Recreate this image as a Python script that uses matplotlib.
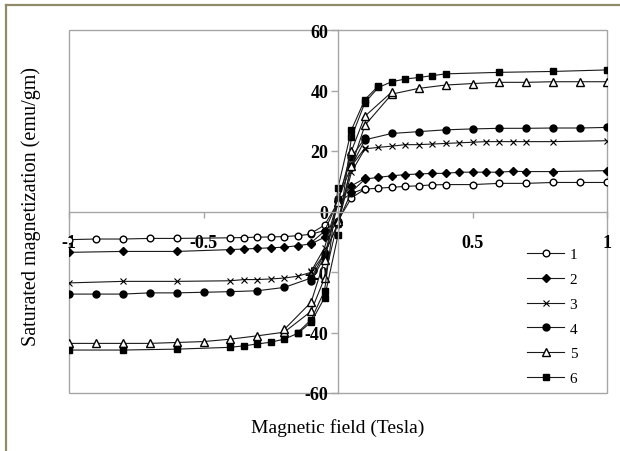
import matplotlib
matplotlib.use("Agg")
import matplotlib.pyplot as plt
from matplotlib.patches import Rectangle
from matplotlib.lines import Line2D

plt.rcParams['axes.unicode_minus'] = False
plt.rcParams['font.family'] = ['Liberation Serif', 'DejaVu Serif']

# ---------------- data (field in Tesla, magnetization in emu/gm) ----------------
labels = ['1', '2', '3', '4', '5', '6']

s1_up_x = [-1, -0.9, -0.8, -0.7, -0.6, -0.4, -0.35, -0.3, -0.25, -0.2, -0.15, -0.1, -0.05, 0,
           0.05, 0.1, 0.15, 0.2, 0.25, 0.3, 0.35, 0.4, 0.5, 0.6, 0.7, 0.8, 0.9, 1.0]
s1_up_y = [-9.3, -9.1, -9.1, -8.9, -8.9, -8.7, -8.6, -8.5, -8.4, -8.3, -8.0, -7.5, -6.3, -3.0,
           4.5, 7.4, 7.7, 8.0, 8.3, 8.5, 8.8, 8.9, 8.9, 9.3, 9.3, 9.6, 9.6, 9.6]
s1_dn_x = [0.1, 0.05, 0, -0.05, -0.1]
s1_dn_y = [7.6, 6.0, 3.0, -4.5, -7.2]

s2_up_x = [-1, -0.8, -0.6, -0.4, -0.35, -0.3, -0.25, -0.2, -0.15, -0.1, -0.05, 0, 0.05, 0.1,
           0.15, 0.2, 0.25, 0.3, 0.35, 0.4, 0.45, 0.5, 0.55, 0.6, 0.65, 0.7, 0.8, 1.0]
s2_up_y = [-13.5, -13.2, -13.2, -12.6, -12.4, -12.2, -12.0, -11.8, -11.3, -10.7, -8.5, -3.5, 6.5, 10.7,
           11.3, 11.8, 12.2, 12.4, 12.6, 12.6, 13.0, 13.0, 13.0, 13.0, 13.3, 13.2, 13.2, 13.5]
s2_dn_x = [0.1, 0.05, 0, -0.05, -0.1]
s2_dn_y = [11.0, 8.5, 3.5, -6.5, -10.3]

s3_up_x = [-1, -0.8, -0.6, -0.4, -0.35, -0.3, -0.25, -0.2, -0.15, -0.1, -0.05, 0, 0.05, 0.1,
           0.15, 0.2, 0.25, 0.3, 0.35, 0.4, 0.45, 0.5, 0.55, 0.6, 0.65, 0.7, 0.8, 1.0]
s3_up_y = [-23.6, -23.1, -23.1, -22.9, -22.5, -22.5, -22.3, -22.0, -21.4, -20.1, -14.0, -4.0, 13.0, 20.7,
           21.2, 21.6, 22.1, 22.1, 22.3, 22.5, 22.7, 22.9, 23.1, 23.1, 23.1, 23.1, 23.1, 23.4]
s3_dn_x = [0.1, 0.05, 0, -0.05, -0.1]
s3_dn_y = [21.0, 15.0, 4.0, -12.0, -19.8]

s4_up_x = [-1, -0.9, -0.8, -0.7, -0.6, -0.5, -0.4, -0.3, -0.2, -0.1, -0.05, 0, 0.05, 0.1,
           0.2, 0.3, 0.4, 0.5, 0.6, 0.7, 0.8, 0.9, 1.0]
s4_up_y = [-27.3, -27.3, -27.3, -26.9, -26.9, -26.7, -26.5, -26.2, -25.1, -22.0, -14.0, -4.0, 15.0, 23.7,
           25.8, 26.4, 27.0, 27.3, 27.5, 27.5, 27.6, 27.6, 27.8]
s4_dn_x = [0.1, 0.05, 0, -0.05, -0.1]
s4_dn_y = [24.2, 18.0, 4.0, -15.0, -23.0]

s5_up_x = [-1, -0.9, -0.8, -0.7, -0.6, -0.5, -0.4, -0.3, -0.2, -0.1, -0.05, 0, 0.05, 0.1,
           0.2, 0.3, 0.4, 0.5, 0.6, 0.7, 0.8, 0.9, 1.0]
s5_up_y = [-43.6, -43.6, -43.6, -43.6, -43.3, -43.0, -42.2, -41.1, -39.9, -33.0, -22.0, -3.0, 15.0, 28.5,
           38.8, 40.7, 41.8, 42.3, 42.7, 42.7, 42.9, 42.9, 42.9]
s5_dn_x = [0.2, 0.1, 0.05, 0, -0.05, -0.1, -0.2]
s5_dn_y = [39.5, 31.5, 20.0, 3.0, -16.0, -30.0, -39.0]

s6_up_x = [-1, -0.8, -0.6, -0.4, -0.35, -0.3, -0.25, -0.2, -0.15, -0.1, -0.05, 0, 0.05, 0.1,
           0.15, 0.2, 0.25, 0.3, 0.35, 0.4, 0.6, 0.8, 1.0]
s6_up_y = [-45.8, -45.8, -45.5, -44.9, -44.4, -43.8, -43.2, -42.2, -40.3, -36.6, -28.5, -7.8, 24.5, 36.0,
           41.0, 42.9, 43.8, 44.3, 44.9, 45.5, 46.0, 46.3, 46.8]
s6_dn_x = [0.15, 0.1, 0.05, 0, -0.05, -0.1, -0.15]
s6_dn_y = [41.5, 37.0, 27.0, 7.8, -26.2, -35.8, -40.0]

x_ticks = [-1, -0.5, 0.5, 1]
x_ticklabels = ['-1', '-0.5', '0.5', '1']
y_ticks = [-60, -40, -20, 0, 20, 40, 60]
y_ticklabels = ['-60', '-40', '-20', '0', '20', '40', '60']

series = [
    (s1_up_x, s1_up_y, s1_dn_x, s1_dn_y),
    (s2_up_x, s2_up_y, s2_dn_x, s2_dn_y),
    (s3_up_x, s3_up_y, s3_dn_x, s3_dn_y),
    (s4_up_x, s4_up_y, s4_dn_x, s4_dn_y),
    (s5_up_x, s5_up_y, s5_dn_x, s5_dn_y),
    (s6_up_x, s6_up_y, s6_dn_x, s6_dn_y),
]
styles = [
    dict(marker='o', markerfacecolor='white', markersize=4.8),
    dict(marker='D', markerfacecolor='black', markersize=4.0),
    dict(marker='x', markerfacecolor='black', markersize=4.0, markeredgewidth=0.8),
    dict(marker='o', markerfacecolor='black', markersize=5.0),
    dict(marker='^', markerfacecolor='white', markersize=5.3),
    dict(marker='s', markerfacecolor='black', markersize=4.8),
]

# ---------------- figure ----------------
W, H = 620, 452
fig = plt.figure(figsize=(W / 100, H / 100), dpi=100)
fig.patch.set_facecolor('white')

ax = fig.add_axes([69 / W, 1 - 394 / H, (607 - 69) / W, (394 - 31) / H])
ax.set_xlim(-1, 1)
ax.set_ylim(-60, 60)

gray = '#a6a6a6'
for (ux, uy, dx, dy), st, lab in zip(series, styles, labels):
    ax.plot(ux, uy, color='#1a1a1a', lw=0.8, markeredgecolor='black', label=lab, **st)
    ax.plot(dx, dy, color='#1a1a1a', lw=0.8, markeredgecolor='black', **st)

ax.spines['left'].set_position('zero')
ax.spines['bottom'].set_position('zero')
ax.spines['right'].set_visible(False)
ax.spines['top'].set_visible(False)
for s in ('left', 'bottom'):
    ax.spines[s].set_color(gray)
    ax.spines[s].set_linewidth(1.0)
ax.add_patch(Rectangle((0, 0), 1, 1, transform=ax.transAxes, fill=False,
                       edgecolor=gray, linewidth=1.0, clip_on=False, zorder=0))

ax.set_xticks(x_ticks)
ax.set_xticklabels(x_ticklabels, fontweight='bold', fontsize=13)
ax.set_yticks(y_ticks)
ax.set_yticklabels(y_ticklabels, fontweight='bold', fontsize=13)
ax.tick_params(axis='x', direction='out', length=4, width=1.0, color=gray, pad=12)
ax.tick_params(axis='y', direction='out', length=5, width=1.0, color=gray, pad=2)

fig.text(338 / W, 1 - 428 / H, 'Magnetic field (Tesla)', ha='center', va='center', fontsize=14)
fig.text(31 / W, 1 - 207 / H, 'Saturated magnetization (emu/gm)', ha='center', va='center',
         rotation=90, fontsize=14.5)

leg = ax.legend(loc='upper left', bbox_to_anchor=(0.851, 0.40), frameon=False, fontsize=11,
                handlelength=2.45, handletextpad=0.35, labelspacing=0.72, borderpad=0,
                borderaxespad=0)

# outer olive frame (top and left edges visible)
frame_c = '#8e8a6a'
fig.add_artist(Line2D([6 / W, 6 / W], [0, 1 - 6 / H], transform=fig.transFigure,
                      color=frame_c, lw=1.6, solid_capstyle='projecting'))
fig.add_artist(Line2D([6 / W, 1], [1 - 6 / H, 1 - 6 / H], transform=fig.transFigure,
                      color=frame_c, lw=1.6, solid_capstyle='projecting'))

fig.savefig('out.png', dpi=100, facecolor='white')
